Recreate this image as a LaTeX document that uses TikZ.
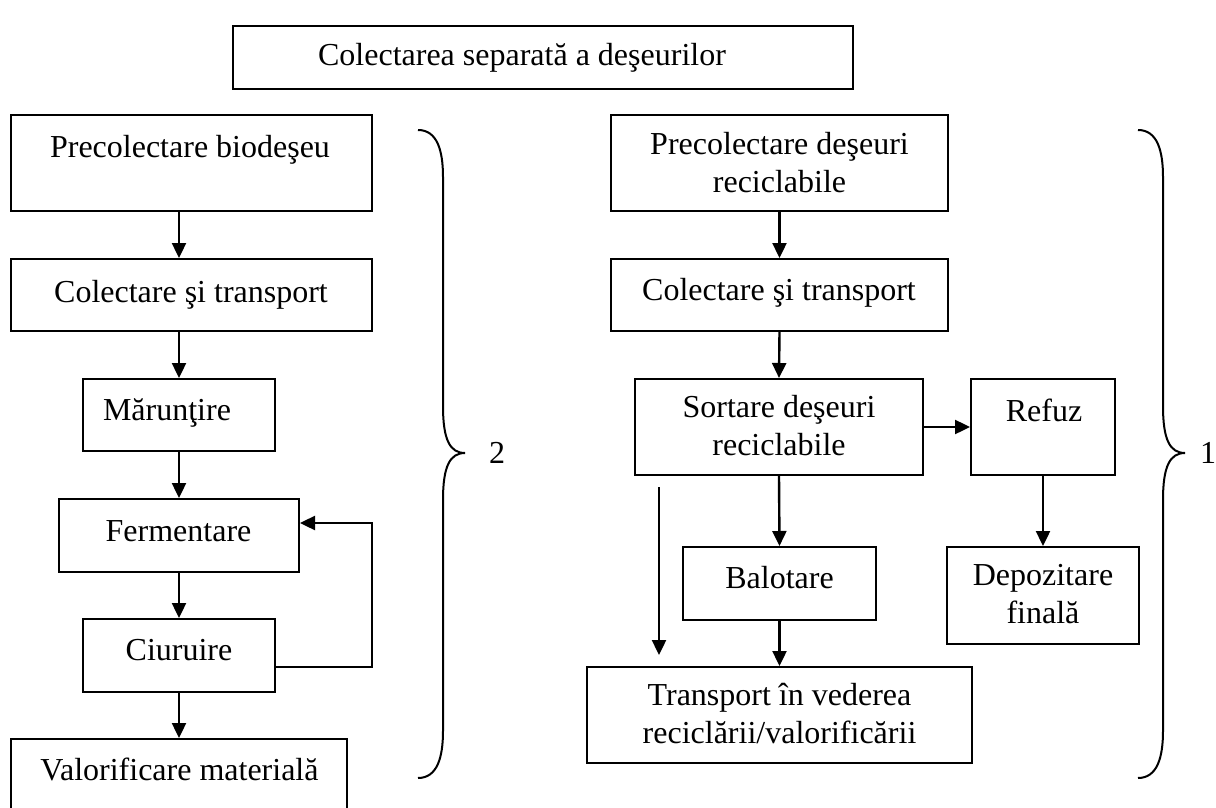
\documentclass[tikz,border=0pt]{standalone}
\usepackage{fontspec}
\setmainfont{Liberation Serif}
\usetikzlibrary{arrows.meta}
\begin{document}
\begin{tikzpicture}[x=1pt,y=-1pt,
  box/.style={draw, line width=2pt, inner sep=0pt},
  txt/.style={inner sep=0pt, anchor=base, align=center, font=\fontsize{32}{38}\selectfont},
  arr/.style={line width=2.4pt, -{Triangle[length=15pt,width=14pt]}},
  brc/.style={line width=2pt}]
\useasboundingbox (0,0) rectangle (1216,808);
\clip (0,0) rectangle (1216,808);

% title
\node[box, minimum width=620pt, minimum height=63pt] (T) at (543,57.5) {};
\node[txt] (Tt) at (522,66) {Colectarea separată a deşeurilor};

% left column
\node[box, minimum width=361pt, minimum height=96pt] (L1) at (191.5,163) {};
\node[box, minimum width=361pt, minimum height=72pt] (L2) at (191.5,295) {};
\node[box, minimum width=192pt, minimum height=72pt] (L3) at (179,415) {};
\node[box, minimum width=240pt, minimum height=73pt] (L4) at (179,535.5) {};
\node[box, minimum width=192pt, minimum height=73pt] (L5) at (179,655.5) {};
\node[box, minimum width=336pt, minimum height=91pt] (L6) at (179,784.5) {};
\node[txt] (L1t) at (190,157) {Precolectare biodeşeu};
\node[txt] (L2t) at (191,302) {Colectare şi transport};
\node[txt] (L3t) at (167,420) {Mărunţire};
\node[txt] (L4t) at (178.5,541) {Fermentare};
\node[txt] (L5t) at (179,660) {Ciuruire};
\node[txt] (L6t) at (179.5,780) {Valorificare materială};

% right column
\node[box, minimum width=337pt, minimum height=96pt] (R1) at (779.5,163) {};
\node[box, minimum width=337pt, minimum height=72pt] (R2) at (779.5,295) {};
\node[box, minimum width=288pt, minimum height=96pt] (R3) at (779,427) {};
\node[box, minimum width=144pt, minimum height=96pt] (Rf) at (1043,427) {};
\node[box, minimum width=192pt, minimum height=97pt] (Rd) at (1043,595.5) {};
\node[box, minimum width=193pt, minimum height=73pt] (Rb) at (779.5,583.5) {};
\node[box, minimum width=385pt, minimum height=96pt] (Rt) at (779.5,715) {};
\node[txt] (R1t) at (779.5,192) {Precolectare deşeuri\\reciclabile};
\node[txt] (R2t) at (779,300) {Colectare şi transport};
\node[txt] (R3t) at (779,455) {Sortare deşeuri\\reciclabile};
\node[txt] (Rft) at (1044,421) {Refuz};
\node[txt] (Rdt) at (1043,623) {Depozitare\\finală};
\node[txt] (Rbt) at (779.5,588) {Balotare};
\node[txt] (Rtt) at (779.5,743) {Transport în vederea\\reciclării/valorificării};

% left arrows
\draw[arr] (L1.south -| L3.north) -- (L2.north -| L3.north);
\draw[arr] (L2.south -| L3.north) -- (L3.north);
\draw[arr] (L3.south) -- (L4.north);
\draw[arr] (L4.south) -- (L5.north);
\draw[arr] (L5.south) -- (L5.south |- L6.north);
\coordinate (fb) at (372,523);
\draw[arr] ([yshift=-11.5pt]L5.east) -| (fb) -- (fb -| L4.east);

% right arrows
\draw[arr] (R1.south) -- (R2.north);
\draw[arr] (R2.south) -- (R3.north);
\draw[arr] (R3.south) -- (Rb.north);
\draw[arr] (Rb.south) -- (Rt.north);
\draw[arr] (R3.east) -- (Rf.west);
\draw[arr] (Rf.south) -- (Rd.north);
\coordinate (fs) at (659,487);
\coordinate (fe) at (659,655);
\draw[arr] (fs) -- (fe);

% braces
\draw[brc] (418,130) .. controls (437,130) and (443,150) .. (443,177) -- (443,406)
  .. controls (443,440) and (450,453) .. (465,453)
  .. controls (450,453) and (443,466) .. (443,500) -- (443,731)
  .. controls (443,758) and (437,778) .. (418,778);
\begin{scope}[xshift=720pt]
\draw[brc] (418,130) .. controls (437,130) and (443,150) .. (443,177) -- (443,406)
  .. controls (443,440) and (450,453) .. (465,453)
  .. controls (450,453) and (443,466) .. (443,500) -- (443,731)
  .. controls (443,758) and (437,778) .. (418,778);
\end{scope}
\node[txt, anchor=center] (n2) at (497,453) {2};
\node[txt, anchor=center] (n1) at (1208,453) {1};
\end{tikzpicture}
\end{document}
